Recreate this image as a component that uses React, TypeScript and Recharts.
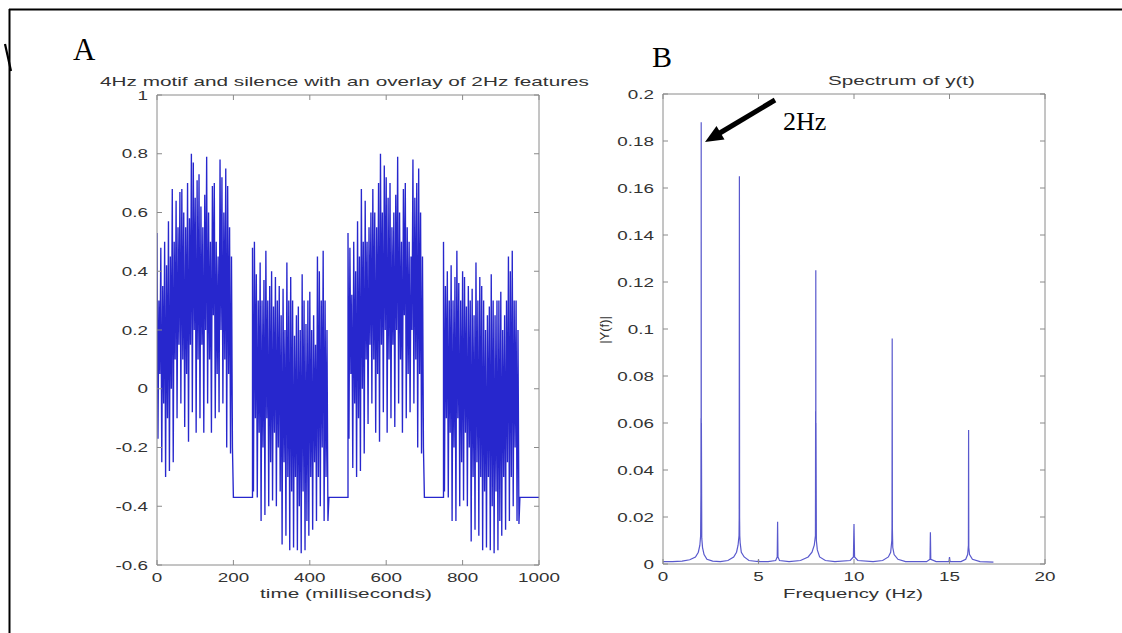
import { LineChart, Line, XAxis, YAxis } from 'recharts';

// Panel A: 4Hz motif with silences, samples every 2.5 ms (peak / trough pairs)
const SILENCE = -0.37;

const seg1Hi = [0.53, 0.3, 0.48, 0.35, 0.5, 0.42, 0.57, 0.45, 0.68, 0.5, 0.64, 0.55, 0.67, 0.68, 0.6, 0.55, 0.7, 0.58, 0.8, 0.77,
  0.65, 0.71, 0.73, 0.62, 0.55, 0.66, 0.79, 0.6, 0.5, 0.69, 0.7, 0.5, 0.45, 0.78, 0.72, 0.6, 0.75, 0.69, 0.55, 0.45];
const seg1Lo = [-0.17, 0.05, -0.25, -0.05, -0.3, -0.1, -0.28, 0.0, -0.25, 0.1, -0.1, 0.15, -0.05, 0.1, -0.13, 0.05, -0.18, 0.15, -0.08, 0.2,
  -0.15, 0.1, -0.1, 0.15, -0.15, 0.2, -0.05, 0.1, -0.15, 0.25, -0.1, 0.05, -0.08, 0.2, -0.05, 0.1, -0.2, 0.05, -0.22, -0.2];

const seg2Hi = [0.48, 0.5, 0.39, 0.3, 0.43, 0.3, 0.37, 0.47, 0.3, 0.35, 0.4, 0.28, 0.38, 0.3, 0.35, 0.25, 0.34, 0.2, 0.43, 0.3,
  0.38, 0.3, 0.18, 0.25, 0.28, 0.2, 0.39, 0.3, 0.22, 0.3, 0.33, 0.2, 0.25, 0.15, 0.45, 0.4, 0.3, 0.47, 0.3, 0.2];
const seg2Lo = [-0.35, -0.1, -0.37, -0.15, -0.45, -0.2, -0.43, -0.1, -0.4, -0.25, -0.38, -0.15, -0.4, -0.2, -0.35, -0.53, -0.25, -0.5, -0.3, -0.55,
  -0.35, -0.54, -0.3, -0.55, -0.4, -0.56, -0.35, -0.55, -0.45, -0.5, -0.3, -0.48, -0.25, -0.45, -0.3, -0.4, -0.2, -0.45, -0.3, -0.45];

const seg3Hi = [0.53, 0.48, 0.32, 0.5, 0.4, 0.57, 0.45, 0.68, 0.5, 0.64, 0.5, 0.55, 0.6, 0.68, 0.6, 0.55, 0.7, 0.8, 0.6, 0.76,
  0.72, 0.65, 0.7, 0.55, 0.6, 0.66, 0.79, 0.6, 0.5, 0.68, 0.7, 0.55, 0.5, 0.45, 0.78, 0.65, 0.7, 0.75, 0.6, 0.45];
const seg3Lo = [-0.17, 0.05, -0.27, -0.05, -0.3, -0.1, -0.28, 0.0, -0.22, 0.1, -0.12, 0.15, -0.05, 0.1, -0.15, 0.05, -0.18, 0.15, -0.08, 0.2,
  -0.15, 0.1, -0.1, 0.15, -0.13, 0.2, -0.05, 0.1, -0.15, 0.25, -0.1, 0.05, -0.08, 0.2, -0.05, 0.1, -0.2, 0.05, -0.22, -0.2];

const seg4Hi = [0.5, 0.35, 0.4, 0.3, 0.42, 0.3, 0.38, 0.47, 0.36, 0.3, 0.4, 0.38, 0.28, 0.35, 0.3, 0.34, 0.25, 0.43, 0.3, 0.38,
  0.35, 0.3, 0.2, 0.25, 0.28, 0.39, 0.3, 0.25, 0.3, 0.3, 0.33, 0.2, 0.25, 0.3, 0.45, 0.4, 0.47, 0.3, 0.3, 0.2];
const seg4Lo = [-0.35, -0.1, -0.37, -0.15, -0.45, -0.2, -0.45, -0.1, -0.4, -0.25, -0.38, -0.15, -0.4, -0.2, -0.52, -0.3, -0.48, -0.25, -0.5, -0.3,
  -0.55, -0.35, -0.54, -0.3, -0.55, -0.4, -0.56, -0.35, -0.55, -0.45, -0.5, -0.3, -0.48, -0.25, -0.45, -0.3, -0.4, -0.2, -0.45, -0.46];

const segStarts = [0, 250, 500, 750];
const segHi = [seg1Hi, seg2Hi, seg3Hi, seg4Hi];
const segLo = [seg1Lo, seg2Lo, seg3Lo, seg4Lo];
const silences = [[200, 250], [450, 500], [700, 750], [950, 1000]];

const timeTicks = [0, 200, 400, 600, 800, 1000];
const ampTicks = [-0.6, -0.4, -0.2, 0, 0.2, 0.4, 0.6, 0.8, 1];

// Panel B: spectrum |Y(f)|
const freqHz = [0, 0.5, 1.0, 1.4, 1.7, 1.85, 1.93, 1.97, 1.985, 1.99, 1.995, 2.0, 2.005, 2.01, 2.03, 2.07, 2.15, 2.3, 2.6,
  3.0, 3.4, 3.7, 3.85, 3.93, 3.98, 3.99, 4.0, 4.01, 4.02, 4.04, 4.1, 4.25, 4.5,
  4.98, 5.0, 5.02, 5.5, 5.9, 5.98, 6.0, 6.02, 6.1, 6.6,
  7.2, 7.6, 7.8, 7.92, 7.98, 7.985, 7.99, 7.995, 8.0, 8.005, 8.01, 8.03, 8.08, 8.2, 8.5,
  9.0, 9.8, 9.97, 9.99, 10.0, 10.01, 10.03, 10.2,
  11.0, 11.5, 11.8, 11.92, 11.98, 11.99, 12.0, 12.01, 12.03, 12.1, 12.3, 12.7,
  13.8, 13.98, 14.0, 14.02, 14.3, 14.97, 15.0, 15.03, 15.6,
  15.85, 15.95, 15.99, 16.0, 16.01, 16.05, 16.2, 16.6, 17.3];
const magnitude = [0.001, 0.001, 0.0012, 0.0018, 0.003, 0.005, 0.008, 0.012, 0.03, 0.062, 0.02, 0.188, 0.03, 0.06, 0.011, 0.007, 0.004, 0.002, 0.0012,
  0.001, 0.0015, 0.003, 0.005, 0.008, 0.012, 0.02, 0.165, 0.02, 0.012, 0.009, 0.005, 0.003, 0.0015,
  0.001, 0.002, 0.001, 0.001, 0.0015, 0.003, 0.018, 0.003, 0.0015, 0.001,
  0.0015, 0.003, 0.005, 0.008, 0.012, 0.03, 0.065, 0.02, 0.125, 0.03, 0.06, 0.01, 0.006, 0.003, 0.0015,
  0.001, 0.0015, 0.003, 0.013, 0.017, 0.012, 0.003, 0.0015,
  0.001, 0.0015, 0.003, 0.005, 0.01, 0.016, 0.096, 0.015, 0.007, 0.004, 0.002, 0.001,
  0.001, 0.002, 0.0135, 0.002, 0.001, 0.001, 0.003, 0.001, 0.001,
  0.002, 0.004, 0.008, 0.057, 0.007, 0.004, 0.002, 0.001, 0.0008];

const freqTicks = [0, 5, 10, 15, 20];
const magTicks = [0, 0.02, 0.04, 0.06, 0.08, 0.1, 0.12, 0.14, 0.16, 0.18, 0.2];

const signalData: { t: number; y: number }[] = [];
segStarts.forEach((start, s) => {
  segHi[s].forEach((hi, i) => {
    signalData.push({ t: start + i * 5, y: hi });
    signalData.push({ t: start + i * 5 + 2.5, y: segLo[s][i] });
  });
  signalData.push({ t: silences[s][0], y: SILENCE });
  signalData.push({ t: silences[s][1], y: SILENCE });
});

const spectrumData = freqHz.map((f, i) => ({ f, m: magnitude[i] }));

const SANS = '"Liberation Sans", Arial, Helvetica, sans-serif';
const SERIF = '"Liberation Serif", "Times New Roman", serif';
const TEXT = '#333';
const BOX = '#8a8a8a';
const STRETCH = 1.45;

const LeftTick = ({ x, y, payload }: any) => (
  <g>
    <line x1={x} y1={y} x2={x + 5} y2={y} stroke={BOX} />
    <text transform={`translate(${x - 9},${y + 4.5}) scale(${STRETCH},1)`} textAnchor="end" fontSize={13} fill={TEXT} fontFamily={SANS}>
      {String(payload.value)}
    </text>
  </g>
);

const RightTick = ({ x, y }: any) => <line x1={x} y1={y} x2={x - 5} y2={y} stroke={BOX} />;

const BottomTick = ({ x, y, payload }: any) => (
  <g>
    <line x1={x} y1={y} x2={x} y2={y - 5} stroke={BOX} />
    <text transform={`translate(${x},${y + 17}) scale(${STRETCH},1)`} textAnchor="middle" fontSize={13} fill={TEXT} fontFamily={SANS}>
      {String(payload.value)}
    </text>
  </g>
);

const TopTick = ({ x, y }: any) => <line x1={x} y1={y} x2={x} y2={y + 5} stroke={BOX} />;

function Panel({ data, xKey, yKey, xDomain, yDomain, xTicks, yTicks, margin, width, height, yWidth, stroke, opacity, strokeWidth }: any) {
  return (
    <LineChart width={width} height={height} data={data} margin={margin}>
      <XAxis xAxisId="b" dataKey={xKey} type="number" domain={xDomain} ticks={xTicks} allowDataOverflow
        height={40} tickSize={0} tickMargin={0} tickLine={false} axisLine={{ stroke: BOX }} tick={(p: any) => <BottomTick {...p} />} interval={0} />
      <XAxis xAxisId="t" orientation="top" dataKey={xKey} type="number" domain={xDomain} ticks={xTicks} allowDataOverflow
        height={1} tickSize={0} tickMargin={0} tickLine={false} axisLine={{ stroke: BOX }} tick={(p: any) => <TopTick {...p} />} interval={0} />
      <YAxis yAxisId="l" type="number" domain={yDomain} ticks={yTicks} allowDataOverflow
        width={yWidth} tickSize={0} tickMargin={0} tickLine={false} axisLine={{ stroke: BOX }} tick={(p: any) => <LeftTick {...p} />} interval={0} />
      <YAxis yAxisId="r" orientation="right" type="number" domain={yDomain} ticks={yTicks} allowDataOverflow
        width={1} tickSize={0} tickMargin={0} tickLine={false} axisLine={{ stroke: BOX }} tick={(p: any) => <RightTick {...p} />} interval={0} />
      <Line xAxisId="b" yAxisId="l" type="linear" dataKey={yKey} stroke={stroke} strokeOpacity={opacity} strokeWidth={strokeWidth}
        dot={false} activeDot={false} isAnimationActive={false} />
      <Line xAxisId="t" yAxisId="r" type="linear" dataKey={yKey} stroke="none" dot={false} activeDot={false} isAnimationActive={false} />
    </LineChart>
  );
}

export default function App() {
  return (
    <div style={{ position: 'relative', width: 1122, height: 633, background: '#fff', overflow: 'hidden' }}>
      <style>{'body{margin:0}'}</style>

      <div style={{ position: 'absolute', left: 90, top: 85 }}>
        <Panel data={signalData} xKey="t" yKey="y" xDomain={[0, 1000]} yDomain={[-0.6, 1]} xTicks={timeTicks} yTicks={ampTicks}
          width={490} height={520} yWidth={57} margin={{ top: 9, right: 40, left: 10, bottom: 0 }}
          stroke="#0f0fc8" opacity={0.9} strokeWidth={1.35} />
      </div>

      <div style={{ position: 'absolute', left: 590, top: 85 }}>
        <Panel data={spectrumData} xKey="f" yKey="m" xDomain={[0, 20]} yDomain={[0, 0.2]} xTicks={freqTicks} yTicks={magTicks}
          width={500} height={519} yWidth={60} margin={{ top: 8, right: 44, left: 13, bottom: 0 }}
          stroke="#1212b8" opacity={0.7} strokeWidth={1.2} />
      </div>

      <svg width={1122} height={633} style={{ position: 'absolute', left: 0, top: 0, pointerEvents: 'none' }}>
        {/* outer frame */}
        <line x1={9} y1={9.5} x2={1122} y2={9.5} stroke="#000" strokeWidth={2} />
        <line x1={9.5} y1={9} x2={9.5} y2={633} stroke="#000" strokeWidth={2} />
        <line x1={5} y1={44} x2={11} y2={71} stroke="#000" strokeWidth={2.2} />

        <text x={73} y={60} fontFamily={SERIF} fontSize={31} fill="#000">A</text>
        <text x={652} y={67} fontFamily={SERIF} fontSize={30} fill="#000">B</text>
        <text x={783} y={130} fontFamily={SERIF} fontSize={26} fill="#000">2Hz</text>

        {/* arrow to the 2Hz peak */}
        <line x1={775} y1={100} x2={719} y2={133.5} stroke="#000" strokeWidth={5} />
        <polygon points="705,142 724.5,139.5 716.5,126" fill="#000" />

        <text x={100} y={86} fontFamily={SANS} fontSize={13} fill={TEXT} textLength={489} lengthAdjust="spacingAndGlyphs">
          4Hz motif and silence with an overlay of 2Hz features
        </text>
        <text x={828} y={85} fontFamily={SANS} fontSize={13} fill={TEXT} textLength={147} lengthAdjust="spacingAndGlyphs">
          Spectrum of y(t)
        </text>
        <text x={260} y={598} fontFamily={SANS} fontSize={13} fill={TEXT} textLength={172} lengthAdjust="spacingAndGlyphs">
          time (milliseconds)
        </text>
        <text x={783} y={598} fontFamily={SANS} fontSize={13} fill={TEXT} textLength={140} lengthAdjust="spacingAndGlyphs">
          Frequency (Hz)
        </text>
        <text x={609} y={330} fontFamily={SANS} fontSize={13} fill={TEXT} textAnchor="middle" transform="rotate(-90 609 330)">
          |Y(f)|
        </text>
      </svg>
    </div>
  );
}
